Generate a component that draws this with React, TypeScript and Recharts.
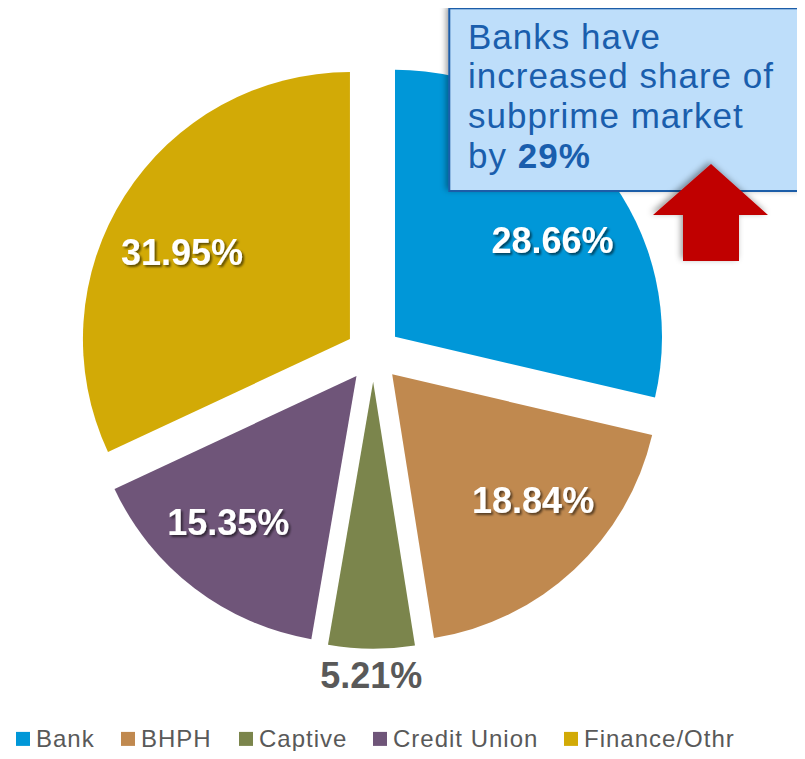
import React from 'react';
import { PieChart, Pie, Sector } from 'recharts';

const categories = ['Bank', 'BHPH', 'Captive', 'Credit Union', 'Finance/Othr'];
const shares = [28.66, 18.84, 5.21, 15.35, 31.95];
const percentLabels = ['28.66%', '18.84%', '5.21%', '15.35%', '31.95%'];
const sliceColors = ['#0097D8', '#C0894F', '#7B854C', '#6F5579', '#D2AA06'];
const calloutLines = ['Banks have', 'increased share of', 'subprime market'];
const calloutLastPrefix = 'by ';
const calloutHighlight = '29%';

const data = categories.map((name, i) => ({ name, value: shares[i] }));

// layout constants
const CX = 365.3;
const CY = 346;
const R = 267;
const EXPLODE = 27.7;
const labelRadius = [185, 189, 293, 194, 189];
const labelAngleShift = [-6.8, 5.3, 0, -4, 5.2];
const labelFill = ['#ffffff', '#ffffff', '#595959', '#ffffff', '#ffffff'];
const legendX = [16, 121, 239, 373, 564];
const LEGEND_BASELINE = 746.5;
const RAD = Math.PI / 180;
const FONT = "'Liberation Sans', Arial, Helvetica, sans-serif";

const renderSlice = (props: any) => {
  const { cx, cy, outerRadius, startAngle, endAngle, index } = props;
  const mid = props.midAngle != null ? props.midAngle : (startAngle + endAngle) / 2;
  const ox = cx + EXPLODE * Math.cos(-mid * RAD);
  const oy = cy + EXPLODE * Math.sin(-mid * RAD);
  const a = (mid + labelAngleShift[index]) * RAD;
  const lx = ox + labelRadius[index] * Math.cos(-a);
  const ly = oy + labelRadius[index] * Math.sin(-a);
  return (
    <g key={`slice-${index}`}>
      {index === 0 && (
        <defs>
          <filter id="lblShadow" x="-20%" y="-30%" width="140%" height="160%">
            <feDropShadow dx="2" dy="2" stdDeviation="1.2" floodColor="#000000" floodOpacity="0.55" />
          </filter>
        </defs>
      )}
      <Sector
        cx={ox}
        cy={oy}
        innerRadius={0}
        outerRadius={outerRadius}
        startAngle={startAngle}
        endAngle={endAngle}
        fill={sliceColors[index]}
        stroke="none"
      />
      <text
        x={lx}
        y={ly}
        dy="0.36em"
        textAnchor="middle"
        fill={labelFill[index]}
        fontSize={36}
        fontWeight="bold"
        fontFamily={FONT}
        filter={index === 2 ? undefined : 'url(#lblShadow)'}
      >
        {percentLabels[index]}
      </text>
    </g>
  );
};

export default function App() {
  return (
    <div style={{ position: 'relative', width: 789, height: 743 }}>
      <PieChart width={789} height={743} margin={{ top: 0, right: 0, bottom: 0, left: 0 }}>
        <Pie
          data={data}
          dataKey="value"
          nameKey="name"
          cx={CX}
          cy={CY}
          innerRadius={0}
          outerRadius={R}
          startAngle={90}
          endAngle={-270}
          fill="transparent"
          stroke="none"
          label={renderSlice}
          labelLine={false}
          isAnimationActive={false}
        />
      </PieChart>
      <svg
        width={805}
        height={751}
        style={{ position: 'absolute', left: -8, top: -8, pointerEvents: 'none' }}
      >
        <defs>
          <filter id="boxShadow" x="-10%" y="-10%" width="120%" height="130%">
            <feDropShadow dx="-2" dy="-2" stdDeviation="3" floodColor="#000000" floodOpacity="0.4" />
          </filter>
        </defs>
        <rect
          x={449.3}
          y={8.3}
          width={351.5}
          height={182.7}
          fill="#BEDEFA"
          stroke="#1C5DA8"
          strokeWidth={2}
          filter="url(#boxShadow)"
        />
        {calloutLines.map((line, i) => (
          <text
            key={line}
            x={468}
            y={48.5 + i * 39.9}
            fill="#1A5EAD"
            fontSize={35}
            letterSpacing={1}
            fontFamily={FONT}
          >
            {line}
          </text>
        ))}
        <text x={468} y={48.5 + 3 * 39.9} fill="#1A5EAD" fontSize={35} letterSpacing={1} fontFamily={FONT}>
          {calloutLastPrefix}
          <tspan fontWeight="bold">{calloutHighlight}</tspan>
        </text>
        <polygon
          points="711,164 768,215 739,215 739,261 683,261 683,215 653,215"
          fill="#C00000"
          filter="url(#boxShadow)"
        />
        {categories.map((c, i) => (
          <g key={c}>
            <rect x={legendX[i]} y={LEGEND_BASELINE - 14.6} width={14} height={14} fill={sliceColors[i]} />
            <text
              x={legendX[i] + 20}
              y={LEGEND_BASELINE}
              fill="#595959"
              fontSize={24}
              letterSpacing={1}
              fontFamily={FONT}
            >
              {c}
            </text>
          </g>
        ))}
      </svg>
    </div>
  );
}
